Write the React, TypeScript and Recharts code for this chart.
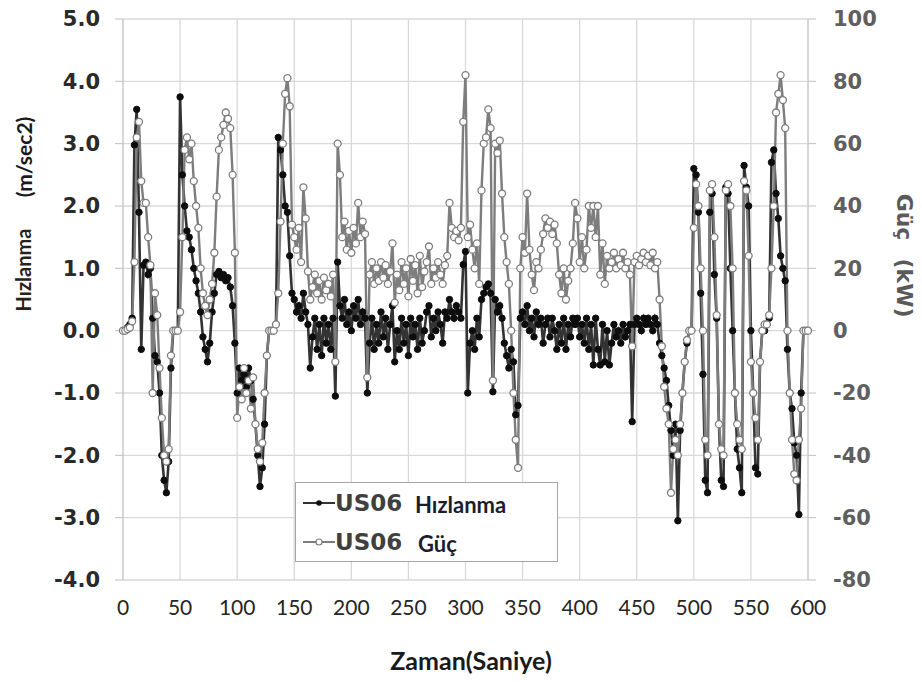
import React from 'react';
import { LineChart, Line, XAxis, YAxis, CartesianGrid } from 'recharts';

// Zaman (saniye)
const timeSec = [
  0, 2, 4, 6, 8, 10, 12, 14, 16, 18,
  20, 22, 24, 26, 28, 30, 32, 34, 36, 38,
  40, 42, 44, 46, 48, 50, 52, 54, 56, 58,
  60, 62, 64, 66, 68, 70, 72, 74, 76, 78,
  80, 82, 84, 86, 88, 90, 92, 94, 96, 98,
  100, 102, 104, 106, 108, 110, 112, 114, 116, 118,
  120, 122, 124, 126, 128, 130, 132, 134, 136, 138,
  140, 142, 144, 146, 148, 150, 152, 154, 156, 158,
  160, 162, 164, 166, 168, 170, 172, 174, 176, 178,
  180, 182, 184, 186, 188, 190, 192, 194, 196, 198,
  200, 202, 204, 206, 208, 210, 212, 214, 216, 218,
  220, 222, 224, 226, 228, 230, 232, 234, 236, 238,
  240, 242, 244, 246, 248, 250, 252, 254, 256, 258,
  260, 262, 264, 266, 268, 270, 272, 274, 276, 278,
  280, 282, 284, 286, 288, 290, 292, 294, 296, 298,
  300, 302, 304, 306, 308, 310, 312, 314, 316, 318,
  320, 322, 324, 326, 328, 330, 332, 334, 336, 338,
  340, 342, 344, 346, 348, 350, 352, 354, 356, 358,
  360, 362, 364, 366, 368, 370, 372, 374, 376, 378,
  380, 382, 384, 386, 388, 390, 392, 394, 396, 398,
  400, 402, 404, 406, 408, 410, 412, 414, 416, 418,
  420, 422, 424, 426, 428, 430, 432, 434, 436, 438,
  440, 442, 444, 446, 448, 450, 452, 454, 456, 458,
  460, 462, 464, 466, 468, 470, 472, 474, 476, 478,
  480, 482, 484, 486, 488, 490, 492, 494, 496, 498,
  500, 502, 504, 506, 508, 510, 512, 514, 516, 518,
  520, 522, 524, 526, 528, 530, 532, 534, 536, 538,
  540, 542, 544, 546, 548, 550, 552, 554, 556, 558,
  560, 562, 564, 566, 568, 570, 572, 574, 576, 578,
  580, 582, 584, 586, 588, 590, 592, 594, 596, 598,
  600,
];

// US06 Hızlanma (m/sec2)
const accelUS06 = [
  0, 0, 0.05, 0.1, 0.2, 2.98, 3.55, 1.9, -0.3, 1.05,
  1.1, 0.9, 1.0, 0.2, -0.4, -0.5, -1.0, -2.0, -2.4, -2.6,
  -2.1, -0.6, 0, 0, 0, 3.75, 2.5, 2.0, 1.6, 1.5,
  1.3, 1.0, 0.8, 0.6, 0.3, -0.1, -0.3, -0.5, -0.2, 0.3,
  0.6, 0.9, 0.95, 0.85, 0.9, 0.8, 0.85, 0.7, 0.4, -0.2,
  -1.0, -0.6, -0.8, -0.7, -0.9, -0.6, -0.8, -1.1, -1.5, -2.0,
  -2.5, -2.2, -1.5, -0.4, 0, 0, 0, 0.1, 3.1, 2.9,
  2.5, 2.0, 1.9, 1.2, 0.6, 0.5, 0.3, 0.4, 0.2, 0.6,
  0.3, 0.1, -0.6, -0.1, 0.2, -0.3, 0.1, -0.4, 0.2, -0.2,
  0.1, -0.3, 0.2, -1.05, 1.1, 0.4, 0.2, 0.5, 0.1, 0.3,
  0.0, 0.4, 0.2, 0.5, 0.1, 0.3, 0.2, -1.0, -0.2, 0.2,
  -0.3, 0.1, -0.2, 0.3, -0.1, 0.2, -0.3, 0.1, 0.4, -0.5,
  0.0, -0.3, 0.2, -0.2, 0.1, -0.4, 0.2, -0.1, 0.1, -0.3,
  0.2, -0.2, 0.0, 0.3, 0.4, -0.1, 0.2, 0.0, 0.3, 0.1,
  -0.2, 0.3, 0.2, 0.5, 0.3, 0.2, 0.4, 0.3, 0.2, 1.06,
  1.27, -1.0, -0.2, 0.0, -0.3, 0.2, -0.1, 0.5, 0.6, 0.7,
  0.75, 0.6, -0.98, 0.5, 0.3, 0.4, 0.2, -0.2, -0.4, -0.6,
  -0.3, -0.5, -1.35, -1.2, 0.2, 0.3, 0.1, 0.4, 0.0, 0.2,
  -0.1, 0.3, 0.1, 0.2, -0.2, 0.1, 0.2, -0.1, 0.2, 0.0,
  -0.3, 0.1, -0.2, 0.2, -0.3, 0.1, -0.1, 0.2, 0.1, 0.2,
  -0.1, 0.1, -0.2, 0.2, -0.3, 0.1, -0.55, 0.2, -0.3, -0.55,
  0.1, -0.5, 0.0, -0.55, -0.2, 0.1, -0.1, 0.0, -0.2, 0.1,
  -0.1, 0.0, 0.1, -1.46, 0.1, 0.2, 0.1, 0.0, 0.2, 0.1,
  0.2, 0.1, 0.0, 0.2, 0.1, -0.2, -0.4, -0.6, -0.8, -1.2,
  -1.6, -2.0, -1.5, -3.05, -1.6, -1.0, -0.5, -0.2, 0, 0,
  2.6, 2.5, 1.9, 0.6, -0.7, -2.4, -2.6, 1.9, 2.2, 0.9,
  0.2, -1.5, -2.4, -2.5, 2.3, 2.2, 1.0, 0.0, -1.0, -1.9,
  -2.2, -2.6, 2.65, 2.3, 2.0, 0.0, -1.0, -2.2, -2.3, -0.5,
  0.0, 0.0, 0.1, 0.2, 2.7, 2.9, 2.2, 1.8, 1.2, 1.0,
  0.8, -0.3, -1.0, -1.25, -1.8, -2.0, -2.95, -1.0, 0, 0,
  0,
];

// US06 Güç (kW)
const powerUS06 = [
  0, 0, 0.5, 1, 3, 22, 62, 67, 48, 41,
  41, 30, 21, -20, 12, 5, -12, -28, -40, -42,
  -38, -8, 0, 0, 0, 6, 30, 58, 62, 55,
  60, 48, 40, 33, 20, 12, 8, 5, 10, 15,
  25, 43, 58, 62, 66, 70, 68, 65, 50, 25,
  -28, -18, -22, -12, -20, -16, -25, -15, -30, -38,
  -42, -36, -20, -8, 0, 0, 0, 2, 12, 35,
  60, 76, 81, 72, 34, 30, 26, 33, 22, 46,
  36, 19, 10, 14, 18, 12, 16, 10, 17, 13,
  15, 11, 18, -10, 60, 50, 30, 35, 26, 32,
  25, 33, 28, 41, 30, 35, 31, -15, 18, 22,
  15, 20, 16, 22, 17, 21, 15, 19, 28, 9,
  18, 13, 22, 15, 20, 11, 23, 16, 21, 12,
  24, 14, 19, 22, 27, 15, 20, 17, 22, 18,
  15, 21, 24, 41, 33, 30, 32, 29, 33, 67,
  82, 30, 34, 26, 20, 28, 15, 45, 60, 62,
  71, 65, -16, 60, 57, 61, 44, 30, 22, 15,
  0, -20, -35, -44, 20, 30, 25, 44, 26, 18,
  13, 22, 20, 26, 31, 36, 33, 35, 31, 34,
  28, 18, 12, 20, 10, 16, 20, 28, 41, 36,
  22, 30, 20, 26, 40, 33, 40, 30, 40, 18,
  28, 15, 24, 20, 22, 25, 20, 23, 21, 25,
  20, 22, 18, -5, 22, 24, 21, 23, 25, 22,
  24, 21, 25, 20, 22, 10, -5, -18, -25, -30,
  -52, -38, -35, -40, -30, -20, -10, -3, 0, 0,
  33, 47, 40, 20, 0, -35, -40, 45, 47, 30,
  5, -30, -38, -40, 45, 47, 40, 20, -20, -30,
  -35, -38, 48, 45, 24, -10, -20, -28, -35, -10,
  0, 2, 2, 5, 20, 40, 70, 76, 82, 74,
  65, 0, -20, -35, -46, -48, -35, -25, 0, 0,
  0,
];

const xTicks = [0, 50, 100, 150, 200, 250, 300, 350, 400, 450, 500, 550, 600];
const accelTicks = [-4, -3, -2, -1, 0, 1, 2, 3, 4, 5];
const powerTicks = [-80, -60, -40, -20, 0, 20, 40, 60, 80, 100];

const seriesNames = { accel: 'Hızlanma', power: 'Güç', cycle: 'US06' };

const data = timeSec.map((t, i) => ({ t, a: accelUS06[i], p: powerUS06[i] }));

const W = 914;
const H = 674;

export default function App() {
  return (
    <div style={{ position: 'relative', width: W, height: H }}>
      <LineChart
        width={W}
        height={H}
        data={data}
        margin={{ top: 11, right: 44, bottom: 52, left: 40 }}
      >
        <CartesianGrid yAxisId="a" stroke="#d9d9d9" strokeWidth={1.3} />
        <XAxis
          dataKey="t"
          type="number"
          domain={[0, 600]}
          ticks={xTicks}
          interval={0}
          tickLine={false}
          axisLine={false}
          tickSize={0}
          tickMargin={20}
          height={50}
          tick={{ fill: '#262626', fontSize: 21, fontFamily: 'Lato' }}
        />
        <YAxis
          yAxisId="a"
          domain={[-4, 5]}
          ticks={accelTicks}
          interval={0}
          width={75}
          tickFormatter={(v: number) => v.toFixed(1)}
          tickSize={8}
          tickMargin={15}
          tickLine={{ stroke: '#bfbfbf' }}
          axisLine={{ stroke: '#c8c8c8' }}
          tick={{ fill: '#2a2a2a', fontSize: 21, fontWeight: 'bold', fontFamily: 'DejaVu Sans' }}
        />
        <YAxis
          yAxisId="p"
          orientation="right"
          domain={[-80, 100]}
          ticks={powerTicks}
          interval={0}
          width={70}
          tickSize={8}
          tickMargin={17}
          tickLine={{ stroke: '#bfbfbf' }}
          axisLine={{ stroke: '#c8c8c8' }}
          tick={{ fill: '#5f5f5f', fontSize: 21, fontWeight: 'bold', fontFamily: 'DejaVu Sans' }}
        />
        <Line
          yAxisId="a"
          dataKey="a"
          type="linear"
          stroke="#333333"
          strokeWidth={2.6}
          dot={{ r: 3.2, fill: '#0d0d0d', stroke: '#0d0d0d', strokeWidth: 1 }}
          activeDot={false}
          isAnimationActive={false}
        />
        <Line
          yAxisId="p"
          dataKey="p"
          type="linear"
          stroke="#7d7d7d"
          strokeWidth={2.4}
          dot={{ r: 3.5, fill: '#ffffff', stroke: '#7d7d7d', strokeWidth: 1.3 }}
          activeDot={false}
          isAnimationActive={false}
        />
      </LineChart>
      <svg
        width={W}
        height={H}
        style={{ position: 'absolute', left: 0, top: 0, pointerEvents: 'none', overflow: 'visible' }}
      >
        {/* Left axis title */}
        <text
          transform="translate(15,262) rotate(-90)"
          textAnchor="middle"
          dominantBaseline="central"
          fontFamily="Lato"
          fontWeight="bold"
          fontSize={20}
          fill="#2b2118"
        >
          Hızlanma
        </text>
        <text
          transform="translate(15,149) rotate(-90)"
          textAnchor="middle"
          dominantBaseline="central"
          fontFamily="Lato"
          fontWeight="bold"
          fontSize={21}
          fill="#1a1a1a"
        >
          (m/sec2)
        </text>
        {/* Right axis title */}
        <text
          transform="translate(896,209) rotate(90)"
          textAnchor="middle"
          dominantBaseline="central"
          fontFamily="DejaVu Sans"
          fontWeight="bold"
          fontSize={22}
          fill="#5a5a5a"
        >
          Güç
        </text>
        <text
          transform="translate(896,280) rotate(90)"
          textAnchor="middle"
          dominantBaseline="central"
          fontFamily="DejaVu Sans"
          fontWeight="bold"
          fontSize={22}
          fill="#5a5a5a"
        >
          (kW)
        </text>
        {/* X axis title */}
        <text
          x={463}
          y={652}
          textAnchor="middle"
          dominantBaseline="central"
          fontFamily="Lato"
          fontWeight="bold"
          fontSize={25}
          fill="#1a1a1a"
        >
          Zaman(Saniye)
        </text>
        {/* Legend */}
        <rect x={287.5} y={474.5} width={262} height={79} fill="#ffffff" stroke="#a6a6a6" strokeWidth={1} />
        <line x1={295} y1={495} x2={327} y2={495} stroke="#333333" strokeWidth={2} />
        <circle cx={311} cy={495} r={2.8} fill="#0d0d0d" />
        <text x={327} y={495} dominantBaseline="central" fontFamily="DejaVu Sans" fontWeight="bold" fontSize={23} fill="#404040">
          {seriesNames.cycle}
        </text>
        <text x={407} y={496} dominantBaseline="central" fontFamily="Lato" fontWeight="bold" fontSize={22} fill="#1c1c30">
          {seriesNames.accel}
        </text>
        <line x1={295} y1={534} x2={327} y2={534} stroke="#7d7d7d" strokeWidth={2} />
        <circle cx={311} cy={534} r={3} fill="#ffffff" stroke="#7d7d7d" strokeWidth={1.2} />
        <text x={327} y={534} dominantBaseline="central" fontFamily="DejaVu Sans" fontWeight="bold" fontSize={23} fill="#404040">
          {seriesNames.cycle}
        </text>
        <text x={410} y={535} dominantBaseline="central" fontFamily="Lato" fontWeight="bold" fontSize={22} fill="#1c1c30">
          {seriesNames.power}
        </text>
      </svg>
    </div>
  );
}
